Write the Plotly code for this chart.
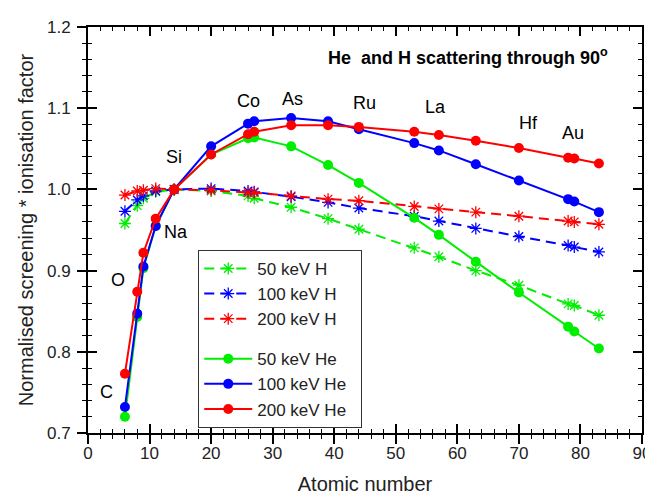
import plotly.graph_objects as go

# Atomic numbers (C, O, F, Na, Si, Ca, Fe, Co, As, Y, Ru, I, La, Eu, Yb, Pt, Au, Bi)
Z = [6, 8, 9, 11, 14, 20, 26, 27, 33, 39, 44, 53, 57, 63, 70, 78, 79, 83]

h50 = [0.958, 0.980, 0.989, 0.997, 1.000, 0.998, 0.992, 0.989, 0.978, 0.964, 0.951,
       0.928, 0.917, 0.900, 0.882, 0.859, 0.857, 0.845]
h100 = [0.973, 0.987, 0.992, 0.998, 1.000, 1.001, 0.998, 0.997, 0.991, 0.984, 0.977,
        0.967, 0.961, 0.952, 0.942, 0.931, 0.929, 0.923]
h200 = [0.993, 0.998, 0.999, 1.001, 1.000, 0.999, 0.996, 0.996, 0.992, 0.988, 0.986,
        0.979, 0.976, 0.972, 0.967, 0.961, 0.960, 0.957]

he50 = [0.720, 0.843, 0.903, 0.955, 1.000, 1.043, 1.063, 1.064, 1.053, 1.030, 1.008,
        0.965, 0.944, 0.911, 0.873, 0.831, 0.825, 0.804]
he100 = [0.732, 0.847, 0.905, 0.955, 1.000, 1.053, 1.081, 1.084, 1.088, 1.084, 1.074,
         1.057, 1.048, 1.031, 1.011, 0.988, 0.985, 0.972]
he200 = [0.773, 0.874, 0.922, 0.964, 1.000, 1.043, 1.068, 1.071, 1.079, 1.079, 1.077,
         1.071, 1.067, 1.060, 1.051, 1.039, 1.038, 1.032]

elem_labels = ["C", "O", "Na", "Si", "Co", "As", "Ru", "La", "Hf", "Au"]
elem_x = [3.0, 4.8, 14.3, 13.9, 26.1, 33.3, 44.9, 56.5, 71.6, 78.8]
elem_y = [0.751, 0.889, 0.947, 1.040, 1.109, 1.111, 1.107, 1.101, 1.082, 1.069]

GREEN, BLUE, RED = "#00ee00", "#0000ff", "#ff0000"
FONT = "Arial, 'Liberation Sans', sans-serif"
PAD = "\u00a0\u00a0"

fig = go.Figure()

for name, vals, col in [("50 keV H", h50, GREEN), ("100 keV H", h100, BLUE), ("200 keV H", h200, RED)]:
    fig.add_trace(go.Scatter(
        x=Z, y=vals, name=name + PAD, mode="lines+markers", legendgroup="H",
        line=dict(color=col, width=2, dash="10px,6px"),
        marker=dict(symbol="asterisk-open", size=10, color=col, line=dict(color=col, width=1.3)),
    ))

for name, vals, col in [("50 keV He", he50, GREEN), ("100 keV He", he100, BLUE), ("200 keV He", he200, RED)]:
    fig.add_trace(go.Scatter(
        x=Z, y=vals, name=name + PAD, mode="lines+markers", legendgroup="He",
        line=dict(color=col, width=2),
        marker=dict(symbol="circle", size=10, color=col),
    ))

# dummy trace for overlay axis (inside ticks)
fig.add_trace(go.Scatter(x=[None], y=[None], xaxis="x2", yaxis="y2", showlegend=False, hoverinfo="skip"))

for t, x, y in zip(elem_labels, elem_x, elem_y):
    fig.add_annotation(x=x, y=y, text=t, showarrow=False, xanchor="center", yanchor="middle",
                       font=dict(family=FONT, size=18, color="black"))

fig.add_annotation(x=61.8, y=1.164, text="<b>He  and H scattering through 90<sup>o</sup></b>",
                   showarrow=False, xanchor="center", yanchor="middle",
                   font=dict(family=FONT, size=18, color="black"))

common_axis = dict(showgrid=False, zeroline=False, showline=True, linecolor="black", linewidth=2)

fig.update_layout(
    width=653, height=494,
    margin=dict(l=80, r=10, t=15, b=62),
    paper_bgcolor="white", plot_bgcolor="white",
    font=dict(family=FONT, size=17, color="#222"),
    xaxis=dict(range=[0, 90], dtick=10, tick0=0, ticks="outside", ticklen=9, tickwidth=1.5,
               tickcolor="black", mirror=True, ticklabelstandoff=-5,
               minor=dict(dtick=2, ticks="outside", ticklen=4, tickcolor="black", tickwidth=1.2),
               title=dict(text="Atomic number", font=dict(size=20, color="#222"), standoff=15),
               tickfont=dict(size=17), **common_axis),
    yaxis=dict(range=[0.7, 1.2], dtick=0.1, tick0=0.7, tickformat=".1f", ticks="outside", ticklen=9,
               tickwidth=1.5, tickcolor="black", mirror=True, ticklabelstandoff=3,
               minor=dict(dtick=0.02, ticks="outside", ticklen=4, tickcolor="black", tickwidth=1.2),
               title=dict(text="Normalised screening * ionisation factor", font=dict(size=20, color="#222"),
                          standoff=8),
               tickfont=dict(size=17), **common_axis),
    xaxis2=dict(range=[0, 90], overlaying="x", side="bottom", dtick=10, tick0=0, ticks="inside",
                ticklen=9, tickwidth=1.5, tickcolor="black", mirror="ticks", showticklabels=False,
                minor=dict(dtick=2, ticks="inside", ticklen=4, tickcolor="black", tickwidth=1.2),
                showgrid=False, zeroline=False, showline=False),
    yaxis2=dict(range=[0.7, 1.2], overlaying="y", side="left", dtick=0.1, tick0=0.7, ticks="inside",
                ticklen=9, tickwidth=1.5, tickcolor="black", mirror="ticks", showticklabels=False,
                minor=dict(dtick=0.02, ticks="inside", ticklen=4, tickcolor="black", tickwidth=1.2),
                showgrid=False, zeroline=False, showline=False),
    legend=dict(x=0.199, y=0.451, xanchor="left", yanchor="top", bgcolor="white",
                bordercolor="#333", borderwidth=1, traceorder="grouped", tracegroupgap=15,
                font=dict(size=17, color="#222"), itemwidth=48),
    showlegend=True,
)

fig.write_html("out.html")
